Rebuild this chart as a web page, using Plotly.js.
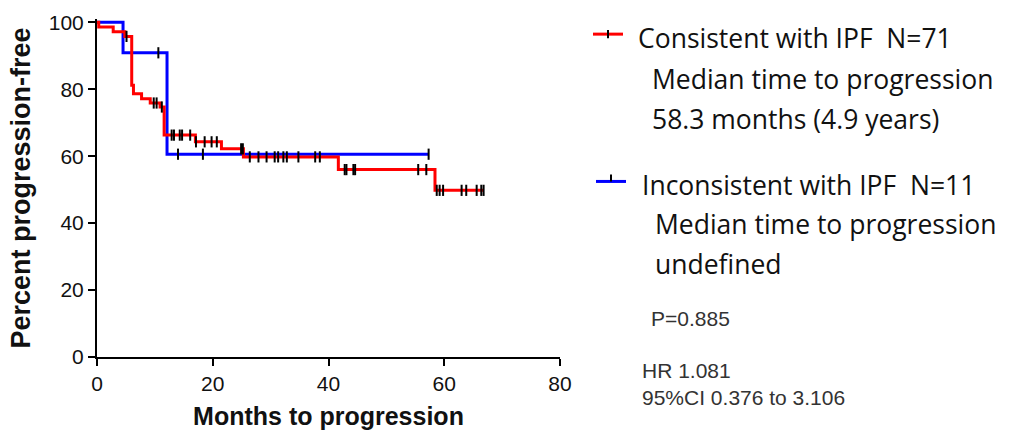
<!DOCTYPE html>
<html>
<head>
<meta charset="utf-8">
<script src="https://cdn.plot.ly/plotly-3.0.1.min.js"></script>
<style>html,body{margin:0;padding:0;background:#fff;}#chart{width:1009px;height:435px;}</style>
</head>
<body>
<div id="chart"></div>
<script>
// Consistent with IPF (red) step curve
const redTimes = [0, 0.3, 2.8, 4.8, 6.0, 6.3, 7.7, 9.2, 10.9, 11.6, 17.0, 21.5, 25.3, 41.7, 58.4, 66.8];
const redSurv  = [100, 98.6, 97.2, 95.8, 81.2, 78.7, 77.2, 75.9, 74.7, 66.3, 64.3, 62.2, 59.8, 56.0, 49.8, 49.8];
// red censored observations
const redCensorTimes = [5.1, 9.8, 10.3, 11.2, 12.9, 13.3, 14.3, 14.7, 16.1, 17.1, 18.6, 19.8, 20.7, 24.9, 25.2,
  26.4, 27.9, 29.3, 30.7, 31.3, 32.2, 32.8, 34.8, 37.7, 38.5, 42.8, 43.1, 44.3, 44.6, 55.5, 56.9,
  58.7, 59.2, 59.8, 63.0, 63.8, 65.6, 66.4, 66.8];
const redCensorSurv = [95.8, 75.9, 75.9, 74.7, 66.3, 66.3, 66.3, 66.3, 66.3, 64.3, 64.3, 64.3, 64.3, 62.2, 62.2,
  59.8, 59.8, 59.8, 59.8, 59.8, 59.8, 59.8, 59.8, 59.8, 59.8, 56.0, 56.0, 56.0, 56.0, 56.0, 56.0,
  49.8, 49.8, 49.8, 49.8, 49.8, 49.8, 49.8, 49.8];
// Inconsistent with IPF (blue) step curve
const blueTimes = [0, 4.5, 12.1, 57.3];
const blueSurv  = [100, 90.9, 60.6, 60.6];
const blueCensorTimes = [10.6, 14.0, 18.3, 57.3];
const blueCensorSurv  = [90.9, 60.6, 60.6, 60.6];
// axis ticks
const xTicks = [0, 20, 40, 60, 80];
const yTicks = [0, 20, 40, 60, 80, 100];

const censorMarker = {symbol: 'line-ns', size: 8, color: '#000', line: {color: '#000', width: 2}};

const traces = [
  {x: blueTimes, y: blueSurv, mode: 'lines', line: {shape: 'hv', color: '#0000ff', width: 3}, hoverinfo: 'skip'},
  {x: redTimes, y: redSurv, mode: 'lines', line: {shape: 'hv', color: '#ff0000', width: 3}, hoverinfo: 'skip'},
  {x: blueCensorTimes, y: blueCensorSurv, mode: 'markers', marker: censorMarker, cliponaxis: false, hoverinfo: 'skip'},
  {x: redCensorTimes, y: redCensorSurv, mode: 'markers', marker: censorMarker, cliponaxis: false, hoverinfo: 'skip'}
];

const L = 97, R = 560, T100 = 22, B0 = 357;
const pw = R - L, ph = (B0 - T100);
function px(x){ return (x - L) / pw; }
function py(y){ return (B0 - y) / ph; }

const legendFont = {family: 'Open Sans, sans-serif', size: 26.5, color: '#111'};
const statFont = {family: 'Liberation Sans, Arial, sans-serif', size: 21, color: '#333'};
function ann(text, x, y, font){
  return {text: text, xref: 'paper', yref: 'paper', x: px(x), y: py(y), xanchor: 'left', yanchor: 'middle', showarrow: false, font: font};
}

const layout = {
  width: 1009, height: 435,
  margin: {l: L, r: 1009 - R, t: T100 - 3.35, b: 435 - B0},
  paper_bgcolor: '#fff', plot_bgcolor: '#fff',
  showlegend: false,
  xaxis: {
    range: [0, 80], tickvals: xTicks, ticktext: xTicks.map(String),
    showline: true, linecolor: '#000', linewidth: 2, ticks: 'outside', ticklen: 7, tickwidth: 2, tickcolor: '#000',
    showgrid: false, zeroline: false, fixedrange: true,
    tickfont: {family: 'Liberation Sans, Arial, sans-serif', size: 21, color: '#111'},
    title: {text: 'Months to progression', font: {family: 'Liberation Sans, Arial, sans-serif', size: 25, color: '#111', weight: 'bold'}, standoff: 13}
  },
  yaxis: {
    range: [0, 101], tickvals: yTicks, ticktext: yTicks.map(String),
    showline: true, linecolor: '#000', linewidth: 2, ticks: 'outside', ticklen: 7, tickwidth: 2, tickcolor: '#000',
    showgrid: false, zeroline: false, fixedrange: true,
    tickfont: {family: 'Liberation Sans, Arial, sans-serif', size: 21, color: '#111'},
    title: {text: 'Percent progression-free', font: {family: 'Liberation Sans, Arial, sans-serif', size: 27, color: '#111', weight: 'bold'}, standoff: 10}
  },
  shapes: [
    {type: 'line', xref: 'paper', yref: 'paper', x0: px(593), x1: px(623), y0: py(37), y1: py(37), line: {color: '#ff0000', width: 3}},
    {type: 'line', xref: 'paper', yref: 'paper', x0: px(608), x1: px(608), y0: py(33), y1: py(41), line: {color: '#000', width: 2}},
    {type: 'line', xref: 'paper', yref: 'paper', x0: px(596), x1: px(626), y0: py(183), y1: py(183), line: {color: '#0000ff', width: 3}},
    {type: 'line', xref: 'paper', yref: 'paper', x0: px(611), x1: px(611), y0: py(176), y1: py(183), line: {color: '#000', width: 2}}
  ],
  annotations: [
    ann('Consistent with IPF&nbsp;&nbsp;N=71', 636, 41, legendFont),
    ann('Median time to progression', 650, 81, legendFont),
    ann('58.3 months (4.9 years)', 650, 121, legendFont),
    ann('Inconsistent with IPF&nbsp;&nbsp;N=11', 640, 187, legendFont),
    ann('Median time to progression', 653, 225, legendFont),
    ann('undefined', 653, 265, legendFont),
    ann('P=0.885', 649, 319, statFont),
    ann('HR 1.081', 640, 370, statFont),
    ann('95%CI 0.376 to 3.106', 640, 397, statFont)
  ]
};

Plotly.newPlot('chart', traces, layout, {staticPlot: true, displayModeBar: false});
</script>
</body>
</html>
